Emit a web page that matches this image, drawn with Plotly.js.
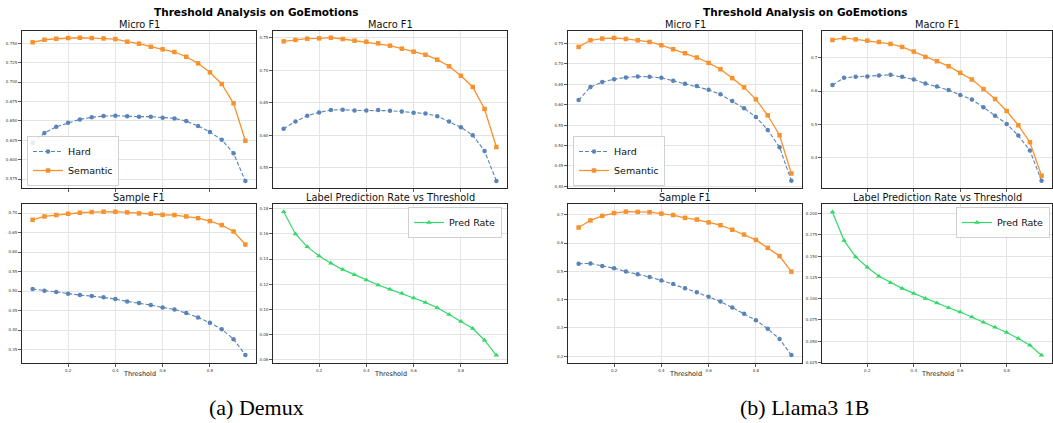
<!DOCTYPE html>
<html>
<head>
<meta charset="utf-8">
<script src="https://cdn.plot.ly/plotly-3.0.1.min.js"></script>
<style>html,body{margin:0;padding:0;background:#fff;}#chart{width:1053px;height:423px;}</style>
</head>
<body>
<div id="chart"></div>
<script>
// ---------- data ----------
const thresholds = [0.05,0.10,0.15,0.20,0.25,0.30,0.35,0.40,0.45,0.50,0.55,0.60,0.65,0.70,0.75,0.80,0.85,0.90,0.95];
const xTicks = [0.2,0.4,0.6,0.8];

// (a) Demux
const demuxMicroHard = [0.6214,0.6343,0.6424,0.6476,0.6519,0.6545,0.6562,0.6566,0.6558,0.6554,0.6554,0.6540,0.6532,0.6497,0.6433,0.6356,0.6256,0.6081,0.5723];
const demuxMicroSem  = [0.7513,0.7546,0.7559,0.7568,0.7572,0.7568,0.7563,0.7555,0.7521,0.7495,0.7456,0.7423,0.7388,0.7327,0.7242,0.7126,0.6975,0.6726,0.6243];
const demuxMacroHard = [0.6100,0.6212,0.6300,0.6351,0.6388,0.6392,0.6381,0.6381,0.6388,0.6377,0.6364,0.6344,0.6333,0.6292,0.6212,0.6122,0.5999,0.5759,0.5297];
const demuxMacroSem  = [0.7444,0.7465,0.7485,0.7490,0.7500,0.7480,0.7454,0.7438,0.7413,0.7377,0.7331,0.7285,0.7238,0.7162,0.7060,0.6915,0.6742,0.6403,0.5818];
const demuxSampleHard = [0.5052,0.5009,0.4974,0.4931,0.4897,0.4871,0.4838,0.4794,0.4734,0.4691,0.4640,0.4580,0.4529,0.4434,0.4322,0.4185,0.4022,0.3765,0.3362];
const demuxSampleSem  = [0.6828,0.6913,0.6949,0.6982,0.7008,0.7026,0.7034,0.7034,0.7017,0.6991,0.6982,0.6956,0.6949,0.6913,0.6869,0.6794,0.6691,0.6528,0.6194];
const demuxPredRate = [0.1776,0.1600,0.1497,0.1425,0.1366,0.1316,0.1276,0.1234,0.1194,0.1159,0.1127,0.1090,0.1055,0.1012,0.0959,0.0903,0.0847,0.0754,0.0634];

// (b) Llama3 1B
const llamaMicroHard = [0.6116,0.6433,0.6555,0.6628,0.6670,0.6694,0.6684,0.6660,0.6587,0.6513,0.6457,0.6367,0.6255,0.6091,0.5913,0.5700,0.5383,0.4960,0.4137];
const llamaMicroSem  = [0.7418,0.7581,0.7622,0.7637,0.7613,0.7581,0.7540,0.7459,0.7361,0.7264,0.7158,0.7026,0.6872,0.6653,0.6426,0.6133,0.5742,0.5253,0.4316];
const llamaMacroHard = [0.618,0.640,0.643,0.644,0.647,0.649,0.643,0.635,0.623,0.614,0.603,0.588,0.575,0.551,0.526,0.501,0.466,0.421,0.330];
const llamaMacroSem  = [0.754,0.760,0.756,0.752,0.748,0.742,0.733,0.719,0.703,0.690,0.675,0.655,0.635,0.606,0.576,0.540,0.497,0.446,0.345];
const llamaSampleHard = [0.527,0.528,0.519,0.511,0.499,0.490,0.480,0.468,0.455,0.440,0.426,0.410,0.393,0.372,0.350,0.327,0.297,0.261,0.204];
const llamaSampleSem  = [0.655,0.680,0.696,0.706,0.711,0.710,0.709,0.704,0.699,0.689,0.683,0.673,0.663,0.647,0.630,0.611,0.583,0.554,0.499];
const llamaPredRate = [0.2020,0.1684,0.1492,0.1370,0.1263,0.1188,0.1121,0.1062,0.1003,0.0948,0.0893,0.0842,0.0783,0.0723,0.0664,0.0601,0.0530,0.0451,0.0333];

const mainTitle = "Threshold Analysis on GoEmotions";
const panelTitles = ["Micro F1","Macro F1","Sample F1","Label Prediction Rate vs Threshold"];
const seriesNames = ["Hard","Semantic","Pred Rate"];
const captions = ["(a) Demux","(b) Llama3 1B"];
const xLabel = "Threshold";

// ---------- layout helpers ----------
const W = 1053, H = 423;
const FONT = "DejaVu Sans, Verdana, sans-serif";
const colHard = "#5a84b7", colSem = "#f7922e", colPred = "#33d96b";

const px = v => v / W;
const py = v => 1 - v / H;

// panel pixel boxes [x0,x1,y0(top),y1(bottom)]
const boxes = [
  [22,256,31,188],[273,507,31,188],[22,256,204,363],[273,507,204,363],
  [568,802,31,188],[822,1052,31,188],[568,802,204,363],[822,1052,204,363]
];
const yRanges = [
  [0.5634,0.7659],[0.5188,0.7603],[0.3155,0.7232],[0.0573,0.1838],
  [0.396,0.7808],[0.308,0.781],[0.176,0.738],[0.0242,0.2115]
];
const yTickSets = [
  [0.575,0.600,0.625,0.650,0.675,0.700,0.725,0.750],
  [0.55,0.60,0.65,0.70,0.75],
  [0.35,0.40,0.45,0.50,0.55,0.60,0.65,0.70],
  [0.06,0.08,0.10,0.12,0.14,0.16,0.18],
  [0.40,0.45,0.50,0.55,0.60,0.65,0.70,0.75],
  [0.4,0.5,0.6,0.7],
  [0.2,0.3,0.4,0.5,0.6,0.7],
  [0.025,0.050,0.075,0.100,0.125,0.150,0.175,0.200]
];
const yFormats = [".3f",".2f",".2f",".2f",".2f",".1f",".1f",".3f"];

const layout = {
  width: W, height: H,
  margin: {l:0,r:0,t:0,b:0},
  paper_bgcolor: "#fff", plot_bgcolor: "#fff",
  font: {family: FONT, color: "#222"},
  showlegend: true,
  annotations: []
};

boxes.forEach((b,i) => {
  const n = i + 1;
  const xa = "xaxis" + (n === 1 ? "" : n), ya = "yaxis" + (n === 1 ? "" : n);
  const bottomRow = (i % 4) >= 2;
  layout[xa] = {
    domain: [px(b[0]), px(b[1])], anchor: "y" + (n === 1 ? "" : n),
    range: [0.005, 0.995], tickvals: xTicks, ticktext: xTicks.map(v => v.toFixed(1)),
    showticklabels: bottomRow, ticks: "outside", ticklen: 2.5, tickwidth: 0.8, tickcolor: "#333",
    tickfont: {size: 4, color: "#333"},
    showline: true, mirror: true, linecolor: "#2a2a2a", linewidth: 1.4,
    showgrid: true, gridcolor: "#e4e4e4", gridwidth: 1, zeroline: false, fixedrange: true
  };
  layout[ya] = {
    domain: [py(b[3]), py(b[2])], anchor: "x" + (n === 1 ? "" : n),
    range: yRanges[i], tickvals: yTickSets[i], tickformat: yFormats[i],
    ticks: "outside", ticklen: 2.5, tickwidth: 0.8, tickcolor: "#333",
    tickfont: {size: 4, color: "#333"},
    showline: true, mirror: true, linecolor: "#2a2a2a", linewidth: 1.4,
    showgrid: true, gridcolor: "#e4e4e4", gridwidth: 1, zeroline: false, fixedrange: true
  };
  // panel title
  layout.annotations.push({
    xref: "paper", yref: "paper", x: px((b[0]+b[1])/2), y: py(b[2] - 6.5),
    xanchor: "center", yanchor: "middle", showarrow: false,
    text: panelTitles[i % 4], font: {size: 9.8, family: FONT, color: "#111"}
  });
  if (bottomRow) {
    layout.annotations.push({
      xref: "paper", yref: "paper", x: px((b[0]+b[1])/2), y: py(374),
      xanchor: "center", yanchor: "middle", showarrow: false,
      text: xLabel, font: {size: 6.5, family: FONT, color: "#222"}
    });
  }
});

// main titles and captions
[[256, 0],[805, 1]].forEach(([cx, k]) => {
  layout.annotations.push({
    xref: "paper", yref: "paper", x: px(cx), y: py(12.5), xanchor: "center", yanchor: "middle",
    showarrow: false, text: "<b>" + mainTitle + "</b>", font: {size: 10.5, family: FONT, color: "#000"}
  });
  layout.annotations.push({
    xref: "paper", yref: "paper", x: px(cx), y: py(407), xanchor: "center", yanchor: "middle",
    showarrow: false, text: captions[k], font: {size: 22, family: "Liberation Serif, Times New Roman, serif", color: "#000"}
  });
});

// legends
const legBase = {bgcolor: "rgba(255,255,255,0.85)", bordercolor: "#d0d0d0", borderwidth: 1,
  font: {size: 9.5, family: FONT, color: "#111"}, itemwidth: 30, tracegroupgap: 0};
layout.legend  = Object.assign({}, legBase, {x: px(27),  y: py(186), xanchor: "left", yanchor: "bottom"});
layout.legend2 = Object.assign({}, legBase, {x: px(502), y: py(207), xanchor: "right", yanchor: "top"});
layout.legend3 = Object.assign({}, legBase, {x: px(573), y: py(186), xanchor: "left", yanchor: "bottom"});
layout.legend4 = Object.assign({}, legBase, {x: px(1050), y: py(207), xanchor: "right", yanchor: "top"});

// ---------- traces ----------
const traces = [];
function hard(y, ax, leg, show) {
  return {x: thresholds, y: y, xaxis: "x" + ax, yaxis: "y" + ax, type: "scatter", mode: "lines+markers",
    name: seriesNames[0], legend: leg, showlegend: show,
    line: {color: colHard, width: 1.1, dash: "4px,2px"}, marker: {symbol: "circle", size: 4.5, color: colHard}};
}
function sem(y, ax, leg, show) {
  return {x: thresholds, y: y, xaxis: "x" + ax, yaxis: "y" + ax, type: "scatter", mode: "lines+markers",
    name: seriesNames[1], legend: leg, showlegend: show,
    line: {color: colSem, width: 1.3}, marker: {symbol: "square", size: 4.5, color: colSem}};
}
function pred(y, ax, leg) {
  return {x: thresholds, y: y, xaxis: "x" + ax, yaxis: "y" + ax, type: "scatter", mode: "lines+markers",
    name: seriesNames[2], legend: leg, showlegend: true,
    line: {color: colPred, width: 1.2}, marker: {symbol: "triangle-up", size: 5, color: colPred}};
}
traces.push(hard(demuxMicroHard, "", "legend", true), sem(demuxMicroSem, "", "legend", true));
traces.push(hard(demuxMacroHard, "2", "legend", false), sem(demuxMacroSem, "2", "legend", false));
traces.push(hard(demuxSampleHard, "3", "legend", false), sem(demuxSampleSem, "3", "legend", false));
traces.push(pred(demuxPredRate, "4", "legend2"));
traces.push(hard(llamaMicroHard, "5", "legend3", true), sem(llamaMicroSem, "5", "legend3", true));
traces.push(hard(llamaMacroHard, "6", "legend3", false), sem(llamaMacroSem, "6", "legend3", false));
traces.push(hard(llamaSampleHard, "7", "legend3", false), sem(llamaSampleSem, "7", "legend3", false));
traces.push(pred(llamaPredRate, "8", "legend4"));

Plotly.newPlot("chart", traces, layout, {displayModeBar: false, staticPlot: true});
</script>
</body>
</html>
